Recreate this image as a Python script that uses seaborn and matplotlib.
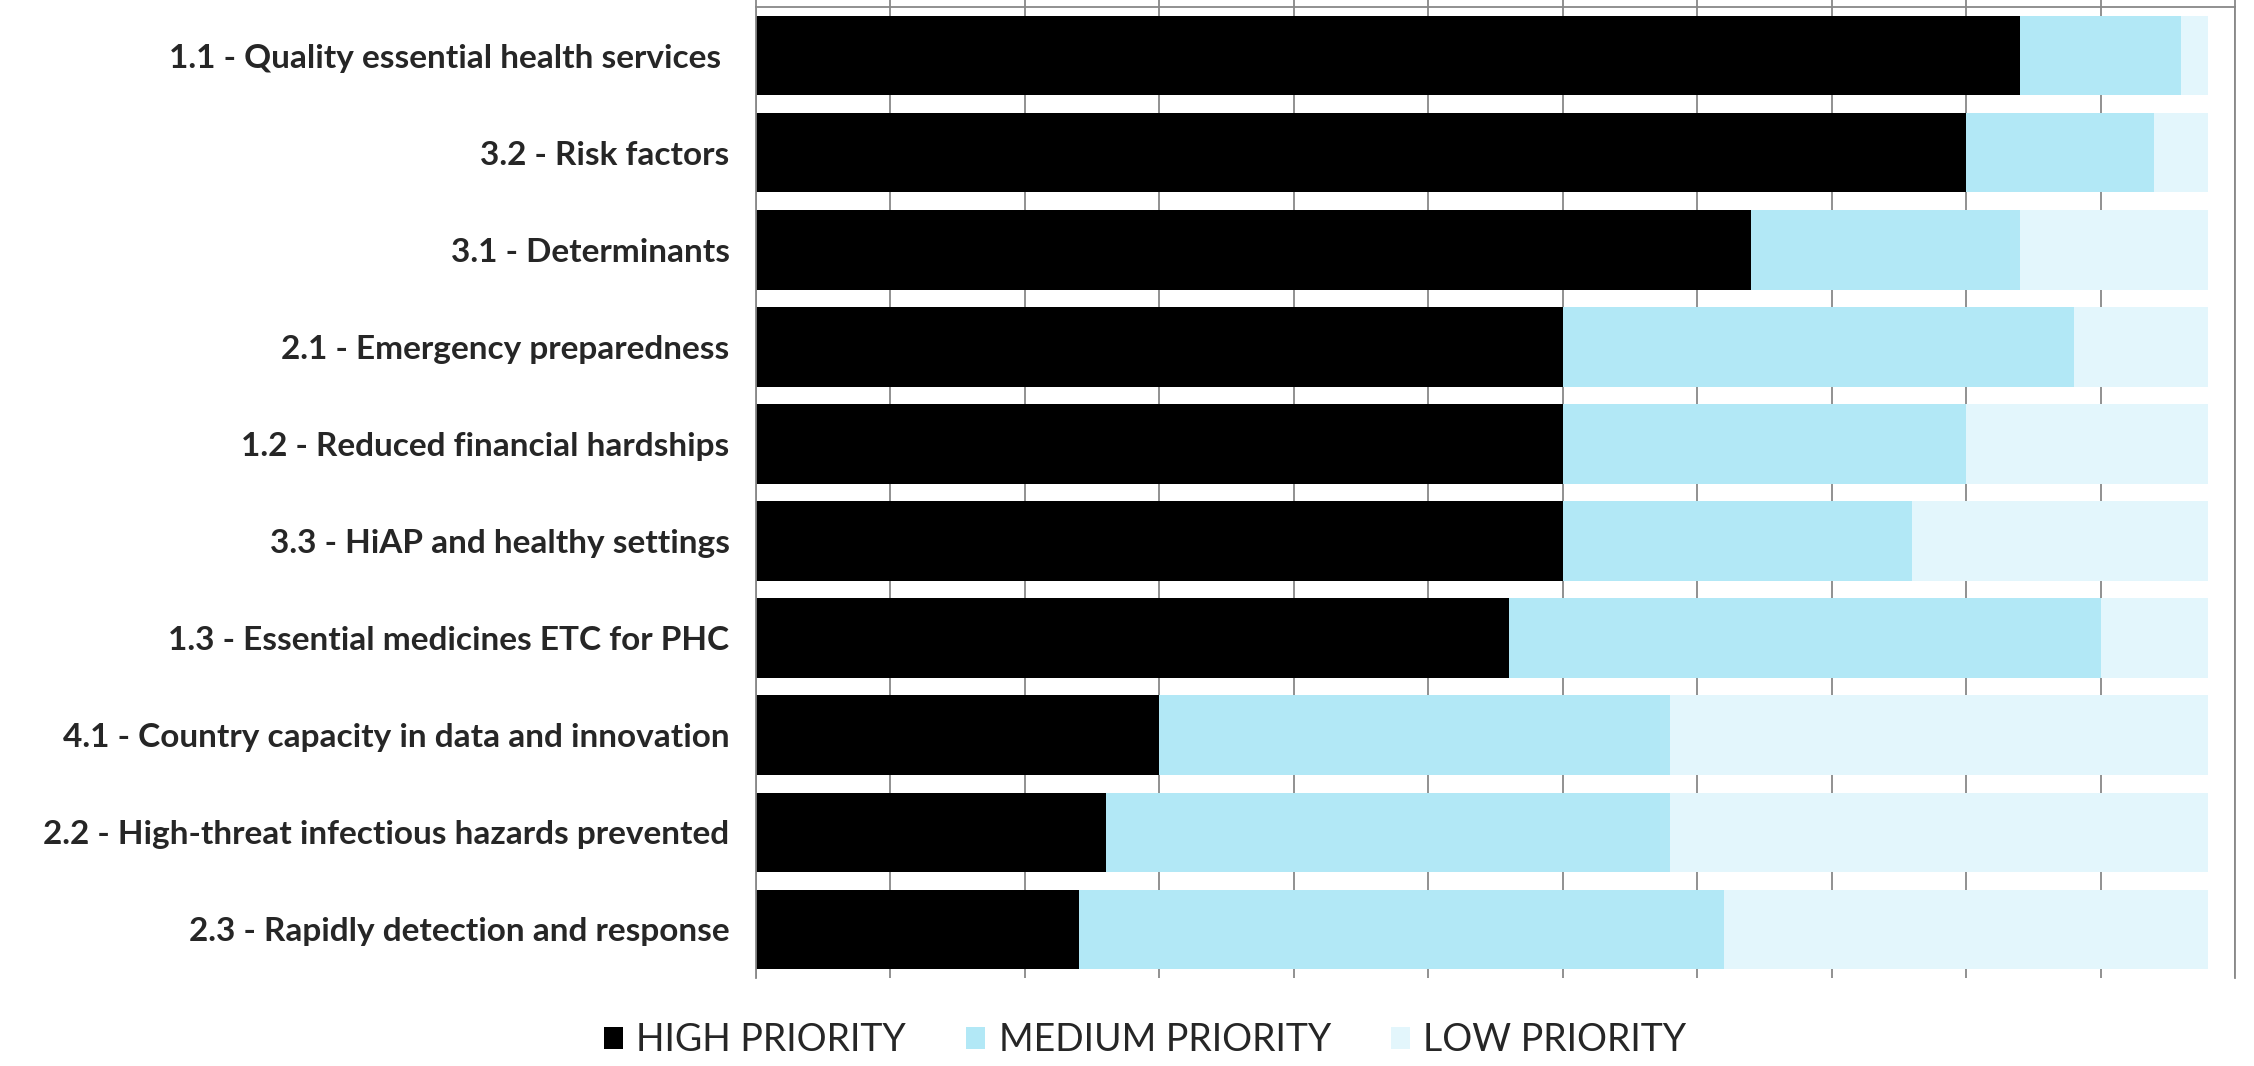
import numpy as np
import pandas as pd
import matplotlib
matplotlib.use("Agg")
import matplotlib.pyplot as plt
import seaborn as sns
from matplotlib.patches import Patch

# survey results: number of countries rating each output (54 in total)
categories = [
    "1.1 - Quality essential health services ",
    "3.2 - Risk factors",
    "3.1 - Determinants",
    "2.1 - Emergency preparedness",
    "1.2 - Reduced financial hardships",
    "3.3 - HiAP and healthy settings",
    "1.3 - Essential medicines ETC for PHC",
    "4.1 - Country capacity in data and innovation",
    "2.2 - High-threat infectious hazards prevented",
    "2.3 - Rapidly detection and response",
]
high = [47, 45, 37, 30, 30, 30, 28, 15, 13, 12]
medium = [6, 7, 10, 19, 15, 13, 22, 19, 21, 24]
low = [1, 2, 7, 5, 9, 11, 4, 20, 20, 18]

series_names = ["HIGH PRIORITY", "MEDIUM PRIORITY", "LOW PRIORITY"]
colors = ["#000000", "#B2E8F6", "#E3F6FC"]
grid_col = "#888888"

df = pd.DataFrame({"cat": categories, "high": high, "medium": medium, "low": low})
df["c_high"] = df["high"]
df["c_medium"] = df["high"] + df["medium"]
df["c_low"] = df["high"] + df["medium"] + df["low"]

sns.set_theme(style="white")
plt.rcParams["font.family"] = ["Lato", "DejaVu Sans"]

fig = plt.figure(figsize=(22.54, 10.66), dpi=100)
ax = fig.add_axes([0.3354, 0.0826, 0.9916 - 0.3354, 0.9934 - 0.0826])

# stacked bars: draw cumulative totals, longest first
for col, c in zip(["c_low", "c_medium", "c_high"], colors[::-1]):
    sns.barplot(data=df, x=col, y="cat", orient="h", color=c, width=0.82,
                saturation=1, linewidth=0, ax=ax)

ax.set_xlim(0, 55)
ax.set_ylim(9.5, -0.5)
ax.set_xlabel("")
ax.set_ylabel("")

# vertical gridlines every 5, value axis on top without labels
ax.set_xticks(np.arange(0, 56, 5))
ax.xaxis.tick_top()
ax.tick_params(axis="x", which="major", direction="out", length=5, width=1.3,
               color=grid_col, labeltop=False, labelbottom=False)
ax.xaxis.grid(True, color=grid_col, linewidth=1.3)
ax.set_axisbelow(True)

# category axis: boundary ticks as minor ticks
ax.set_yticks(np.arange(-0.5, 10, 1), minor=True)
ax.tick_params(axis="y", which="major", length=0, pad=19, labelsize=24)
ax.tick_params(axis="y", which="minor", direction="out", length=7, width=1.3,
               color=grid_col)
for lab in ax.get_yticklabels():
    lab.set_fontweight("bold")

for side in ["top", "left", "right"]:
    ax.spines[side].set_color(grid_col)
    ax.spines[side].set_linewidth(1.3)
ax.spines["bottom"].set_visible(False)

handles = [Patch(facecolor=c, edgecolor="none") for c in colors]
fig.legend(handles, series_names, loc="center", bbox_to_anchor=(0.508, 0.024),
           ncol=3, frameon=False, fontsize=27, handlelength=0.52, handleheight=0.52,
           handletextpad=0.35, columnspacing=1.6)

fig.savefig("out.png", dpi=100)
